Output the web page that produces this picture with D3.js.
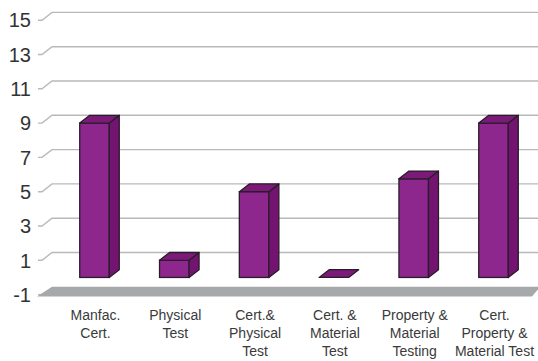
<!DOCTYPE html>
<html>
<head>
<meta charset="utf-8">
<script src="https://cdn.jsdelivr.net/npm/d3@7/dist/d3.min.js"></script>
<style>
  html, body { margin: 0; padding: 0; background: #ffffff; }
  svg { display: block; }
  text { font-family: "Liberation Sans", Arial, Helvetica, sans-serif; }
</style>
</head>
<body>
<svg id="chart" width="538" height="361"></svg>
<script>
// Category labels, one entry per text line
const categoryLines = [
  ["Manfac.", "Cert."],
  ["Physical", "Test"],
  ["Cert.&", "Physical", "Test"],
  ["Cert. &", "Material", "Test"],
  ["Property &", "Material", "Testing"],
  ["Cert.", "Property &", "Material Test"]
];
const categories = categoryLines.map(l => l.join(" "));
const values = [9, 1, 5, 0, 5.75, 9];
const yTicks = [-1, 1, 3, 5, 7, 9, 11, 13, 15];

const W = 538, H = 361;
const depthX = 10, depthY = -7.8;

const svg = d3.select("#chart");

const y = d3.scaleLinear().domain([-1, 15]).range([294.6, 20.2]);
const x = d3.scaleBand().domain(categories).range([52, 536])
  .paddingInner(0.63).paddingOuter(0.3475);

// Back-wall gridlines with their slanted leaders and tick dashes
const grid = svg.append("g").attr("class", "grid");
yTicks.forEach(t => {
  const yf = y(t), yb = y(t) + depthY;
  const d = t !== -1
    ? `M38,${yf}L42,${yf}L${42 + depthX},${yb}L${W},${yb}`
    : `M38,${yf}L42,${yf}`;
  grid.append("path")
    .attr("d", d)
    .attr("fill", "none").attr("stroke", "#b9b9b9").attr("stroke-width", 1.4);
});

// Floor plate at the bottom of the value range
const fTop = y(-1) + depthY, fBot = y(-1) + 1.8;
svg.append("path")
  .attr("d", `M${42 + depthX},${fTop}L${W + 2},${fTop}L532,${fBot}L37,${fBot}Z`)
  .attr("fill", "#a7a8aa");

// Y axis labels
svg.append("g").selectAll("text").data(yTicks).join("text")
  .attr("x", 31).attr("y", d => y(d)).attr("dy", "0.36em")
  .attr("text-anchor", "end")
  .attr("font-size", 20).attr("fill", "#333333")
  .text(d => d);

// 3D bars
const faceColor = "#8e278d", sideColor = "#731570", topColor = "#7b1a78", edgeColor = "#2a1c2a";
const bars = svg.append("g").selectAll("g").data(categories.map((c, i) => ({ c, v: values[i] })))
  .join("g");

bars.each(function(d) {
  const g = d3.select(this);
  const x0 = x(d.c), w = x.bandwidth();
  const yT = y(d.v), yB = y(0);
  if (d.v > 0) {
    g.append("rect")
      .attr("x", x0).attr("y", yT).attr("width", w).attr("height", yB - yT)
      .attr("fill", faceColor).attr("stroke", edgeColor).attr("stroke-width", 1.3);
    g.append("path")
      .attr("d", `M${x0 + w},${yT}L${x0 + w + depthX},${yT + depthY}L${x0 + w + depthX},${yB + depthY}L${x0 + w},${yB}Z`)
      .attr("fill", sideColor).attr("stroke", edgeColor).attr("stroke-width", 1.3).attr("stroke-linejoin", "round");
  }
  g.append("path")
    .attr("d", `M${x0},${yT}L${x0 + depthX},${yT + depthY}L${x0 + w + depthX},${yT + depthY}L${x0 + w},${yT}Z`)
    .attr("fill", topColor).attr("stroke", edgeColor).attr("stroke-width", 1.3).attr("stroke-linejoin", "round");
});

// Category labels
const lab = svg.append("g").selectAll("text").data(categories).join("text")
  .attr("text-anchor", "middle")
  .attr("font-size", 14).attr("fill", "#3a3a3a");
lab.each(function(c, i) {
  const t = d3.select(this);
  const cx = x(c) + x.bandwidth() / 2 + 1;
  categoryLines[i].forEach((line, k) => {
    t.append("tspan").attr("x", cx).attr("y", 320 + k * 18).text(line);
  });
});
</script>
</body>
</html>
